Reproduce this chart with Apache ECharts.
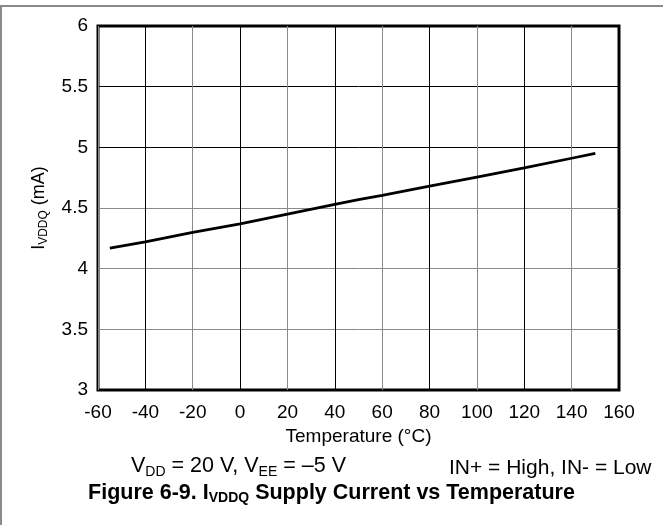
<!DOCTYPE html>
<html>
<head>
<meta charset="utf-8">
<script src="https://cdn.jsdelivr.net/npm/echarts@6/dist/echarts.min.js"></script>
<style>
  html, body { margin: 0; padding: 0; background: #fff; }
  #chart { width: 663px; height: 525px; }
</style>
</head>
<body>
<div id="chart"></div>
<script>
// 数据
const temps = [-55, -40, -20, 0, 20, 40, 50, 60, 80, 100, 120, 140, 150];
const iddq = [4.17, 4.22, 4.30, 4.37, 4.45, 4.53, 4.57, 4.605, 4.68, 4.755, 4.83, 4.91, 4.95];
const xTicks = { min: -60, max: 160, interval: 20 };
const yTicks = { min: 3, max: 6, interval: 0.5 };

const FONT = "'Liberation Sans', Arial, sans-serif";
const GRAY = "#8a8a8a";

const chart = echarts.init(document.getElementById("chart"), null, { renderer: "canvas" });

const option = {
  animation: false,
  backgroundColor: "#fff",
  grid: {
    left: 98,
    right: 44,
    top: 26,
    bottom: 135,
    show: true,
    borderColor: "#000",
    borderWidth: 3,
    containLabel: false,
  },
  xAxis: {
    type: "value",
    min: xTicks.min,
    max: xTicks.max,
    interval: xTicks.interval,
    name: "Temperature (°C)",
    nameLocation: "middle",
    nameGap: 33,
    nameTextStyle: { fontFamily: FONT, fontSize: 19, color: "#000" },
    axisLine: { show: false },
    axisTick: { show: false },
    axisLabel: { fontFamily: FONT, fontSize: 19, color: "#000", margin: 13 },
    // -60 灰, -40 黑, -20 灰 ...
    splitLine: { show: true, lineStyle: { color: [GRAY, "#000"], width: 1 } },
  },
  yAxis: {
    type: "value",
    min: yTicks.min,
    max: yTicks.max,
    interval: yTicks.interval,
    name: "{m|I}{s|VDDQ}{m| (mA)}",
    nameLocation: "middle",
    nameGap: 48,
    nameRotate: 90,
    nameTextStyle: {
      fontFamily: FONT,
      color: "#000",
      rich: {
        m: { fontFamily: FONT, fontSize: 18, lineHeight: 22, color: "#000" },
        s: { fontFamily: FONT, fontSize: 12, lineHeight: 12, verticalAlign: "bottom", color: "#000" },
      },
    },
    axisLine: { show: false },
    axisTick: { show: false },
    axisLabel: {
      fontFamily: FONT,
      fontSize: 19,
      color: "#000",
      margin: 10,
      formatter: v => String(v),
    },
    splitLine: {
      show: true,
      lineStyle: { color: ["#000", GRAY, GRAY, GRAY, "#000", "#000", "#000"], width: 1 },
    },
  },
  graphic: [
    // 外框 (figure frame)
    { type: "line", shape: { x1: 0, y1: 6, x2: 663, y2: 6 }, style: { stroke: GRAY, lineWidth: 2 }, z: 10 },
    { type: "line", shape: { x1: 1, y1: 6, x2: 1, y2: 525 }, style: { stroke: GRAY, lineWidth: 2 }, z: 10 },
    {
      type: "text",
      left: 131,
      top: 455,
      style: {
        text: "{m|V}{s|DD}{m| = 20 V, V}{s|EE}{m| = –5 V}",
        fontFamily: FONT,
        rich: {
          m: { fontFamily: FONT, fontSize: 21.5, lineHeight: 26, fill: "#000" },
          s: { fontFamily: FONT, fontSize: 14, lineHeight: 14, verticalAlign: "bottom", fill: "#000" },
        },
      },
    },
    {
      type: "text",
      left: 449,
      top: 455,
      style: { text: "IN+ = High, IN- = Low", fontFamily: FONT, fontSize: 21, lineHeight: 26, fill: "#000" },
    },
    {
      type: "text",
      left: "center",
      top: 482,
      style: {
        text: "{b|Figure 6-9. I}{bs|VDDQ}{b| Supply Current vs Temperature}",
        fontFamily: FONT,
        rich: {
          b: { fontFamily: FONT, fontSize: 21.5, fontWeight: "bold", lineHeight: 25, fill: "#000" },
          bs: { fontFamily: FONT, fontSize: 14, fontWeight: "bold", lineHeight: 14, verticalAlign: "bottom", fill: "#000" },
        },
      },
    },
  ],
  series: [
    {
      type: "line",
      data: temps.map((t, i) => [t, iddq[i]]),
      showSymbol: false,
      symbol: "none",
      lineStyle: { color: "#000", width: 2.8 },
      z: 5,
    },
  ],
};

chart.setOption(option);
</script>
</body>
</html>
